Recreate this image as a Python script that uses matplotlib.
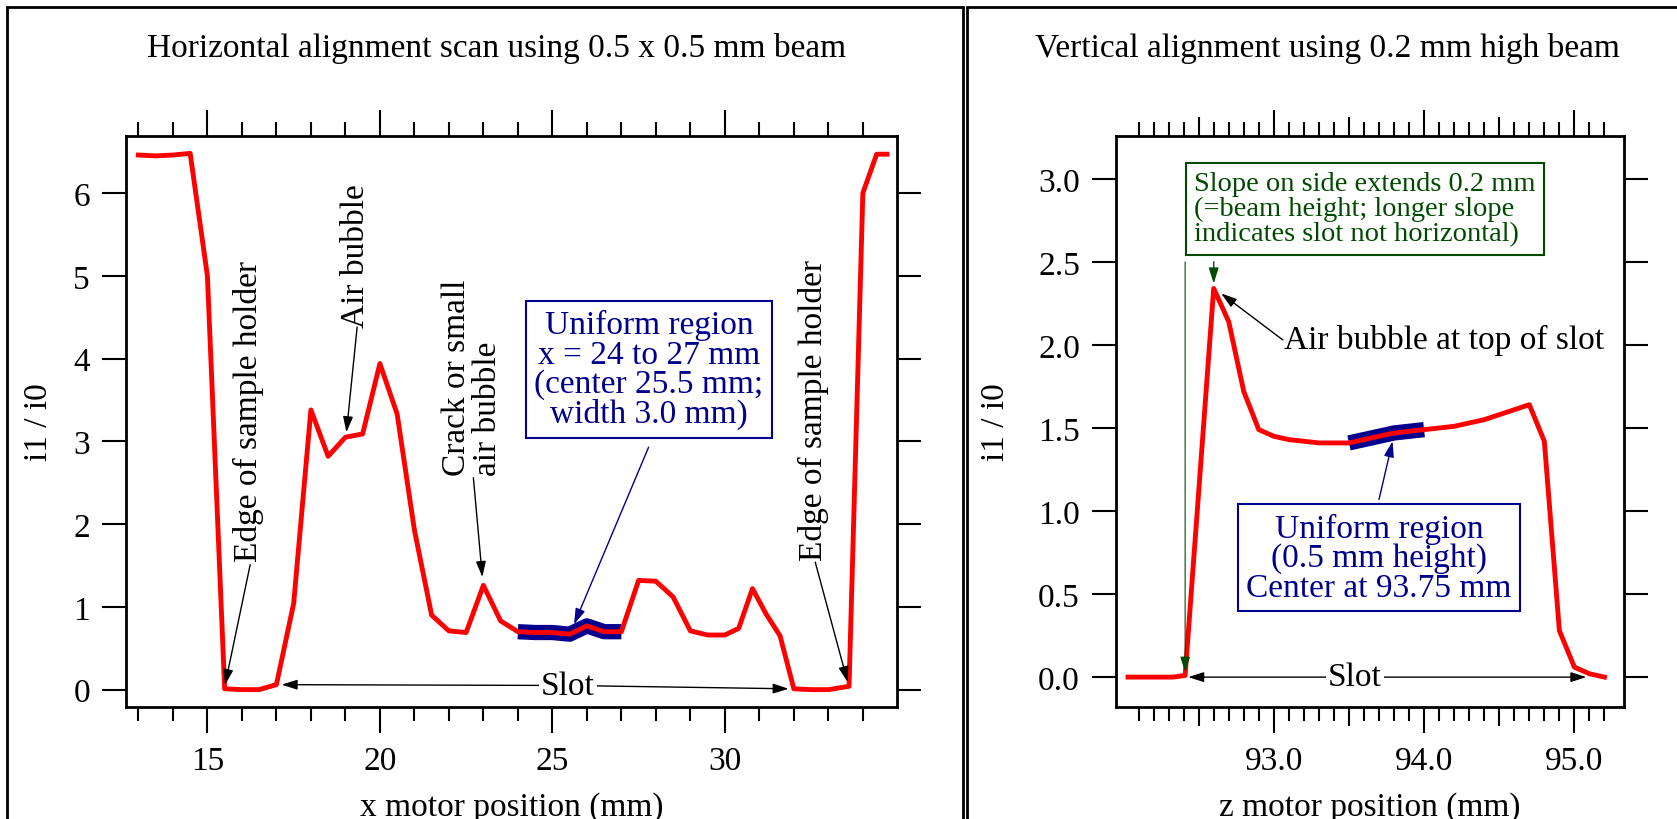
import numpy as np
import matplotlib.pyplot as plt
from matplotlib.ticker import FixedLocator, FormatStrFormatter
from matplotlib.patches import Rectangle

plt.rcParams['font.family'] = ['Liberation Serif', 'DejaVu Serif']

# horizontal scan (x motor, mm) -> i1/i0
x_h = [13.0, 13.5, 14.0, 14.5, 15.0, 15.5, 16.0, 16.5, 17.0, 17.5, 18.0, 18.5,
       19.0, 19.5, 20.0, 20.5, 21.0, 21.5, 22.0, 22.5, 23.0, 23.5, 24.0, 24.5,
       25.0, 25.5, 26.0, 26.5, 27.0, 27.5, 28.0, 28.5, 29.0, 29.5, 30.0, 30.4,
       30.8, 31.2, 31.6, 32.0, 32.5, 33.0, 33.6, 34.0, 34.4, 34.7]
y_h = [6.46, 6.45, 6.46, 6.48, 5.0, 0.01, 0.0, 0.0, 0.06, 1.04, 3.38, 2.82,
       3.05, 3.09, 3.94, 3.33, 1.93, 0.90, 0.71, 0.69, 1.26, 0.83, 0.70, 0.69,
       0.69, 0.67, 0.77, 0.70, 0.70, 1.32, 1.31, 1.12, 0.71, 0.66, 0.66, 0.74,
       1.22, 0.91, 0.65, 0.01, 0.0, 0.0, 0.04, 6.0, 6.47, 6.47]
uni_h = (24.0, 27.0)

# vertical scan (z motor, mm) -> i1/i0
x_v = [92.03, 92.13, 92.23, 92.33, 92.41, 92.6, 92.7, 92.8, 92.9, 93.0, 93.1,
       93.2, 93.3, 93.4, 93.5, 93.6, 93.7, 93.8, 93.9, 94.0, 94.1, 94.2, 94.3,
       94.4, 94.5, 94.6, 94.7, 94.8, 94.9, 95.0, 95.1, 95.2]
y_v = [0.0, 0.0, 0.0, 0.0, 0.01, 2.34, 2.14, 1.72, 1.49, 1.45, 1.43, 1.42,
       1.41, 1.41, 1.41, 1.43, 1.45, 1.47, 1.48, 1.49, 1.50, 1.51, 1.53, 1.55,
       1.58, 1.61, 1.64, 1.42, 0.28, 0.06, 0.02, 0.0]
uni_v = (93.5, 94.0)

h_major = [15, 20, 25, 30]
h_minor = list(range(13, 35))
v_major = [93.0, 94.0, 95.0]
v_minor = list(np.round(np.arange(92.1, 95.21, 0.1), 1))

RED = '#ff0000'
NAVY = '#00008c'
GREEN = '#004a00'
FS = 24

W, H = 1677, 820
fig = plt.figure(figsize=(W / 100, H / 100), dpi=100)
ax1 = fig.add_axes([126 / W, 1 - 708 / H, 771 / W, 571 / H])
ax2 = fig.add_axes([1116 / W, 1 - 708 / H, 508 / W, 571 / H])

# outer frames around each panel
fig.add_artist(Rectangle((7 / W, -0.1), (963 - 7) / W, 1.1 - 8 / H,
                         transform=fig.transFigure, fill=False, lw=2, ec='k'))
fig.add_artist(Rectangle((967 / W, -0.1), 0.5, 1.1 - 8 / H,
                         transform=fig.transFigure, fill=False, lw=2, ec='k'))

fig.text(497 / W, 1 - 48 / H, 'Horizontal alignment scan using 0.5 x 0.5 mm beam',
         ha='center', va='center', fontsize=FS)
fig.text(1327 / W, 1 - 48 / H, 'Vertical alignment using 0.2 mm high beam',
         ha='center', va='center', fontsize=FS)


def style(ax):
    for s in ax.spines.values():
        s.set_linewidth(2)
    ax.tick_params(which='both', direction='out', width=1.5, top=True, right=True,
                   labelsize=FS, pad=9, colors='k')
    ax.tick_params(axis='y', which='major', length=17)
    ax.tick_params(axis='x', which='major', length=19)
    ax.tick_params(axis='x', which='minor', length=10)


def arrow(ax, start, tip, color='k', lw=1.0):
    ax.annotate('', xy=tip, xytext=start,
                arrowprops=dict(arrowstyle='-|>,head_length=0.63,head_width=0.2',
                                mutation_scale=15, color=color, lw=lw,
                                shrinkA=0, shrinkB=0))


# ---------- left panel
xh = np.array(x_h)
yh = np.array(y_h)
m = (xh >= uni_h[0]) & (xh <= uni_h[1])
ax1.plot(xh[m], yh[m], color=NAVY, lw=11, solid_capstyle='butt')
ax1.plot(xh, yh, color=RED, lw=3.5)
ax1.set_xlim(12.64, 34.99)
ax1.set_ylim(-0.21, 6.69)
ax1.xaxis.set_major_locator(FixedLocator(h_major))
ax1.xaxis.set_minor_locator(FixedLocator(h_minor))
ax1.set_yticks(range(0, 7))
style(ax1)
ax1.set_xlabel('x motor position (mm)', fontsize=FS, va='baseline')
ax1.xaxis.set_label_coords(0.5, -0.189)
ax1.set_ylabel('i1 / i0', fontsize=FS, va='center')
ax1.yaxis.set_label_coords(-0.113, 0.5)

ax1.text(16.2, 3.37, 'Edge of sample holder', rotation=90, ha='center', va='center', fontsize=FS)
arrow(ax1, (16.24, 1.51), (15.51, 0.055))
ax1.text(19.29, 5.25, 'Air bubble', rotation=90, ha='center', va='center', fontsize=FS)
arrow(ax1, (19.34, 4.38), (19.03, 3.11))
ax1.text(22.67, 3.78, 'Crack or small\nair bubble', rotation=90, ha='center', va='center',
         multialignment='left', linespacing=1.0, fontsize=FS)
arrow(ax1, (22.71, 2.56), (22.97, 1.36))
ax1.text(32.57, 3.38, 'Edge of sample holder', rotation=90, ha='center', va='center', fontsize=FS)
arrow(ax1, (32.62, 1.54), (33.56, 0.09))

ax1.text(27.8, 3.87, 'Uniform region\nx = 24 to 27 mm\n(center 25.5 mm;\nwidth 3.0 mm)',
         ha='center', va='center', color=NAVY, fontsize=FS, linespacing=0.95,
         bbox=dict(boxstyle='square,pad=0.25', fc='white', ec=NAVY, lw=1.5))
arrow(ax1, (27.79, 2.93), (25.63, 0.79), color=NAVY)

ax1.text(25.45, 0.05, 'Slot', ha='center', va='center', fontsize=FS, zorder=5,
         bbox=dict(boxstyle='square,pad=0.05', fc='white', ec='none'))
arrow(ax1, (25.45, 0.05), (17.15, 0.06))
arrow(ax1, (25.45, 0.05), (31.85, 0.01))

# ---------- right panel
xv = np.array(x_v)
yv = np.array(y_v)
m = (xv >= uni_v[0]) & (xv <= uni_v[1])
ax2.plot(xv[m], yv[m], color=NAVY, lw=11, solid_capstyle='butt')
ax2.plot(xv, yv, color=RED, lw=3.5)
ax2.set_xlim(91.95, 95.33)
ax2.set_ylim(-0.18, 3.258)
ax2.xaxis.set_major_locator(FixedLocator(v_major))
ax2.xaxis.set_minor_locator(FixedLocator(v_minor))
ax2.xaxis.set_major_formatter(FormatStrFormatter('%.1f'))
ax2.set_yticks(np.arange(0, 3.01, 0.5))
ax2.yaxis.set_major_formatter(FormatStrFormatter('%.1f'))
style(ax2)
# half-mm ticks are a bit longer
for loc, t in zip(ax2.xaxis.get_minorticklocs(), ax2.xaxis.get_minor_ticks()):
    if abs(loc * 2 - round(loc * 2)) < 1e-6:
        t.tick1line.set_markersize(14)
        t.tick2line.set_markersize(14)
ax2.set_xlabel('z motor position (mm)', fontsize=FS, va='baseline')
ax2.xaxis.set_label_coords(0.5, -0.189)
ax2.set_ylabel('i1 / i0', fontsize=FS, va='center')
ax2.yaxis.set_label_coords(-0.236, 0.5)

ax2.text(92.47, 2.82, 'Slope on side extends 0.2 mm\n(=beam height; longer slope\nindicates slot not horizontal)',
         ha='left', va='center', color=GREEN, fontsize=20.5, linespacing=1.0,
         bbox=dict(boxstyle='square,pad=0.3', fc='white', ec=GREEN, lw=1.5))
arrow(ax2, (92.6, 2.50), (92.6, 2.37), color=GREEN)
arrow(ax2, (92.41, 2.50), (92.41, 0.03), color=GREEN, lw=0.8)

ax2.text(93.07, 2.03, 'Air bubble at top of slot', ha='left', va='center', fontsize=FS)
arrow(ax2, (93.06, 2.03), (92.65, 2.31))

ax2.text(93.70, 0.72, 'Uniform region\n(0.5 mm height)\nCenter at 93.75 mm',
         ha='center', va='center', color=NAVY, fontsize=FS, linespacing=0.95,
         bbox=dict(boxstyle='square,pad=0.25', fc='white', ec=NAVY, lw=1.5))
arrow(ax2, (93.70, 1.07), (93.79, 1.42), color=NAVY)

ax2.text(93.54, 0.0, 'Slot', ha='center', va='center', fontsize=FS, zorder=5,
         bbox=dict(boxstyle='square,pad=0.05', fc='white', ec='none'))
arrow(ax2, (93.54, 0.0), (92.43, 0.0))
arrow(ax2, (93.54, 0.0), (95.08, 0.0))

fig.savefig('out.png', dpi=100)
